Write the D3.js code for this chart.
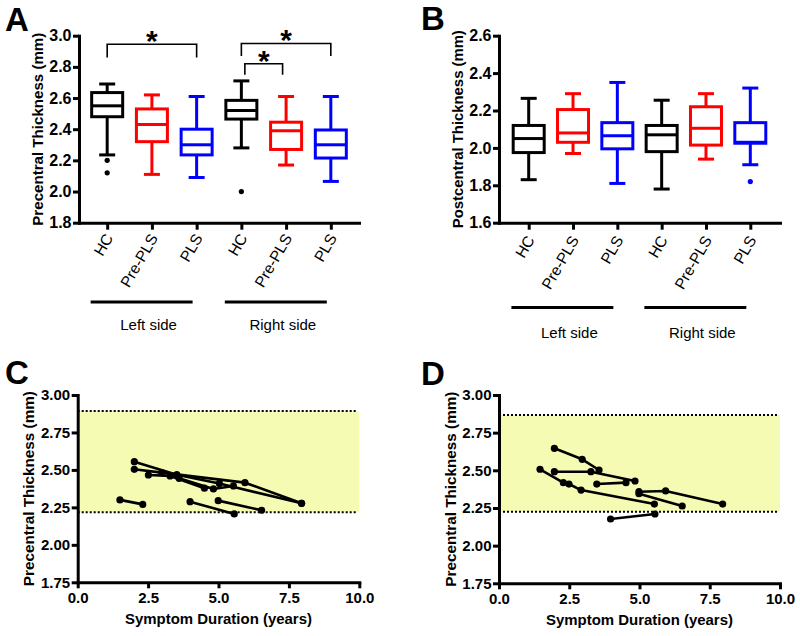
<!DOCTYPE html>
<html><head><meta charset="utf-8">
<script src="https://cdn.jsdelivr.net/npm/d3@7"></script>
<style>
html,body{margin:0;padding:0;background:#fff;}
svg{display:block;font-family:"Liberation Sans",Arial,Helvetica,sans-serif;}
</style></head>
<body>
<script>
// ---------- DATA ----------
const categories = ["HC","Pre-PLS","PLS","HC","Pre-PLS","PLS"];
const catColors = ["#000000","#ff0000","#0000ff","#000000","#ff0000","#0000ff"];
const groups = [{label:"Left side", from:0, to:2}, {label:"Right side", from:3, to:5}];

// Panel A: precentral thickness box plots
const aWhiskerHigh = [2.69, 2.62, 2.61, 2.71, 2.61, 2.61];
const aQ3          = [2.635, 2.53, 2.40, 2.585, 2.445, 2.395];
const aMedian      = [2.55, 2.43, 2.30, 2.52, 2.39, 2.30];
const aQ1          = [2.48, 2.32, 2.235, 2.465, 2.27, 2.215];
const aWhiskerLow  = [2.235, 2.11, 2.09, 2.28, 2.17, 2.065];
const aOutliers    = [[2.20, 2.12], [], [], [2.00], [], []];
const aTicks = [1.8, 2.0, 2.2, 2.4, 2.6, 2.8, 3.0];
// significance brackets (category indices, bracket value, leg end value)
const aSigFrom = [0, 3, 3];
const aSigTo   = [2, 5, 4];
const aSigTop  = [2.945, 2.95, 2.82];
const aSigLeg  = [2.86, 2.87, 2.75];
const aSigLabel = ["*", "*", "*"];

// Panel B: postcentral thickness box plots
const bWhiskerHigh = [2.265, 2.29, 2.35, 2.255, 2.29, 2.32];
const bQ3          = [2.12, 2.205, 2.135, 2.12, 2.22, 2.135];
const bMedian      = [2.05, 2.08, 2.065, 2.07, 2.105, 2.03];
const bQ1          = [1.975, 2.03, 1.995, 1.98, 2.015, 2.025];
const bWhiskerLow  = [1.83, 1.97, 1.81, 1.78, 1.94, 1.91];
const bOutliers    = [[], [], [], [], [], [1.82]];
const bTicks = [1.6, 1.8, 2.0, 2.2, 2.4, 2.6];

// Panel C: longitudinal precentral thickness (left) vs symptom duration
const cSubjects = [
  [[2.01,2.555],[3.52,2.468],[5.03,2.41],[7.95,2.277]],
  [[2.01,2.504],[2.98,2.482],[5.94,2.415],[7.95,2.277]],
  [[2.51,2.466],[3.28,2.46],[4.5,2.378]],
  [[3.6,2.444],[4.82,2.373],[5.53,2.393]],
  [[1.5,2.30],[2.31,2.27]],
  [[3.99,2.288],[5.56,2.206]],
  [[4.99,2.295],[6.53,2.231]]
];
const cBand = [2.217, 2.893];

// Panel D: longitudinal precentral thickness (right) vs symptom duration
const dSubjects = [
  [[1.97,2.646],[2.96,2.573],[3.56,2.502]],
  [[1.97,2.491],[3.27,2.491],[4.84,2.429]],
  [[3.48,2.409],[4.52,2.418]],
  [[1.46,2.507],[2.29,2.418],[2.49,2.409],[2.92,2.369],[5.53,2.276]],
  [[4.98,2.358],[5.93,2.363],[7.96,2.276]],
  [[4.98,2.345],[6.52,2.263]],
  [[3.97,2.177],[5.55,2.21]]
];
const dBand = [2.225, 2.867];
const scatterYTicks = [1.75, 2.00, 2.25, 2.50, 2.75, 3.00];
const scatterXTicks = [0, 2.5, 5, 7.5, 10];

// ---------- DRAW ----------
const svg = d3.select("body").append("svg").attr("width",800).attr("height",636);
const FONT = '"Liberation Sans",Arial,Helvetica,sans-serif';

function styleAxis(g, size){
  g.select(".domain").attr("stroke","#000").attr("stroke-width",3).attr("stroke-linecap","square");
  g.selectAll(".tick line").attr("stroke","#000").attr("stroke-width",3);
  g.selectAll("text").attr("fill","#000").style("font-family",FONT).style("font-size",size+"px").style("font-weight","bold");
}

function panelLetter(t,x,y){
  svg.append("text").attr("x",x).attr("y",y).text(t)
    .style("font-family",FONT).style("font-size","33px").style("font-weight","bold");
}

function boxPanel(o){
  const x = d3.scalePoint().domain(d3.range(categories.length)).range(o.xr).padding(o.pad);
  const y = d3.scaleLinear().domain(o.dom).range(o.yr);
  const u = d3.scaleLinear().domain([0, categories.length-1]).range([x(0), x(categories.length-1)]);

  const gy = svg.append("g").attr("transform",`translate(${o.xr[0]},0)`)
    .call(d3.axisLeft(y).tickValues(o.ticks).tickFormat(d3.format(".1f")).tickSize(6).tickSizeOuter(0).tickPadding(1.5));
  styleAxis(gy,16);
  const gx = svg.append("g").attr("transform",`translate(0,${o.yr[0]})`)
    .call(d3.axisBottom(x).tickSize(7).tickSizeOuter(0).tickFormat(i=>categories[i]));
  styleAxis(gx,15);
  gx.selectAll("text").style("font-weight","normal").style("font-size","15.5px")
    .attr("x",0).attr("y",0).attr("dy",0).attr("text-anchor","end")
    .attr("transform",`translate(6,${o.lblDy}) rotate(-60)`);

  const bw = 31, cw = 16;
  const g = svg.append("g");
  categories.forEach((c,i)=>{
    const cx = x(i), col = catColors[i];
    const s = g.append("g").attr("stroke",col).attr("stroke-width",3).attr("fill","none");
    s.append("line").attr("x1",cx).attr("x2",cx).attr("y1",y(o.hi[i])).attr("y2",y(o.q3[i]));
    s.append("line").attr("x1",cx).attr("x2",cx).attr("y1",y(o.q1[i])).attr("y2",y(o.lo[i]));
    s.append("line").attr("x1",cx-cw/2).attr("x2",cx+cw/2).attr("y1",y(o.hi[i])).attr("y2",y(o.hi[i]));
    s.append("line").attr("x1",cx-cw/2).attr("x2",cx+cw/2).attr("y1",y(o.lo[i])).attr("y2",y(o.lo[i]));
    s.append("rect").attr("x",cx-bw/2).attr("width",bw).attr("y",y(o.q3[i])).attr("height",y(o.q1[i])-y(o.q3[i]));
    s.append("line").attr("x1",cx-bw/2).attr("x2",cx+bw/2).attr("y1",y(o.med[i])).attr("y2",y(o.med[i]));
    o.out[i].forEach(v=>{
      g.append("circle").attr("cx",cx).attr("cy",y(v)).attr("r",2.6).attr("fill",col);
    });
  });

  // group underline + labels
  groups.forEach((gr,k)=>{
    const x1 = u(gr.from - o.grpExt[0]), x2 = u(gr.to + o.grpExt[1]);
    svg.append("line").attr("x1",x1).attr("x2",x2).attr("y1",o.grpLineY).attr("y2",o.grpLineY)
      .attr("stroke","#000").attr("stroke-width",3);
    svg.append("text").attr("x",(x1+x2)/2+7).attr("y",o.grpTextY).attr("text-anchor","middle")
      .text(gr.label).style("font-family",FONT).style("font-size","15px");
  });

  // y title
  svg.append("text").attr("transform",`translate(${o.titleX},${(o.yr[0]+o.yr[1])/2}) rotate(-90)`)
    .attr("text-anchor","middle").text(o.title)
    .attr("textLength",o.titleLen).attr("lengthAdjust","spacingAndGlyphs")
    .style("font-family",FONT).style("font-size","15.5px").style("font-weight","bold");

  // significance
  if(o.sig){
    o.sig.from.forEach((f,k)=>{
      const inset = o.sig.inset[k];
      const x1 = x(f)+inset, x2 = x(o.sig.to[k])-inset;
      const yt = y(o.sig.top[k]), yl = y(o.sig.leg[k]);
      svg.append("path").attr("d",`M${x1},${yl}V${yt}H${x2}V${yl}`)
        .attr("fill","none").attr("stroke","#000").attr("stroke-width",1.6);
      svg.append("text").attr("x",(x1+x2)/2).attr("y",yt+7).attr("text-anchor","middle")
        .text(o.sig.label[k]).style("font-family",FONT).style("font-size","30px").style("font-weight","bold");
    });
  }
}

function scatterPanel(o){
  const x = d3.scaleLinear().domain([0,10]).range(o.xr);
  const y = d3.scaleLinear().domain([1.75,3.0]).range(o.yr);
  // band
  svg.append("rect").attr("x",x(0)).attr("width",x(10)-x(0))
    .attr("y",y(o.band[1])).attr("height",y(o.band[0])-y(o.band[1])).attr("fill","#f6fbb4");
  o.band.forEach(v=>{
    svg.append("line").attr("x1",x(0)).attr("x2",x(10)-2).attr("y1",y(v)).attr("y2",y(v))
      .attr("stroke","#000").attr("stroke-width",2).attr("stroke-dasharray","2,2");
  });
  const gy = svg.append("g").attr("transform",`translate(${o.xr[0]},0)`)
    .call(d3.axisLeft(y).tickValues(scatterYTicks).tickFormat(d3.format(".2f")).tickSize(6).tickSizeOuter(0).tickPadding(1.5));
  styleAxis(gy,15);
  const gx = svg.append("g").attr("transform",`translate(0,${o.yr[0]})`)
    .call(d3.axisBottom(x).tickValues(scatterXTicks).tickFormat(d3.format(".1f")).tickSize(6).tickSizeOuter(0).tickPadding(4));
  styleAxis(gx,15);

  const line = d3.line().x(d=>x(d[0])).y(d=>y(d[1]));
  o.subjects.forEach(s=>{
    svg.append("path").attr("d",line(s)).attr("fill","none").attr("stroke","#000").attr("stroke-width",2.6)
      .attr("stroke-linejoin","round");
  });
  o.subjects.forEach(s=>{
    s.forEach(p=>svg.append("circle").attr("cx",x(p[0])).attr("cy",y(p[1])).attr("r",3.6).attr("fill","#000"));
  });

  svg.append("text").attr("transform",`translate(${o.titleX},${(o.yr[0]+o.yr[1])/2}) rotate(-90)`)
    .attr("text-anchor","middle").text("Precentral Thickness (mm)")
    .attr("textLength",195).attr("lengthAdjust","spacingAndGlyphs")
    .style("font-family",FONT).style("font-size","15.5px").style("font-weight","bold");
  svg.append("text").attr("x",(o.xr[0]+o.xr[1])/2).attr("y",o.xTitleY).attr("text-anchor","middle")
    .text("Symptom Duration (years)")
    .attr("textLength",187).attr("lengthAdjust","spacingAndGlyphs")
    .style("font-family",FONT).style("font-size","15.5px").style("font-weight","bold");
}

boxPanel({xr:[79,359], pad:0.63, yr:[222.7,35.7], dom:[1.8,3.0], ticks:aTicks,
  hi:aWhiskerHigh, q3:aQ3, med:aMedian, q1:aQ1, lo:aWhiskerLow, out:aOutliers,
  lblDy:15, grpExt:[0.37,-0.09], grpLineY:302, grpTextY:330, titleX:43, titleLen:193,
  title:"Precentral Thickness (mm)",
  sig:{from:aSigFrom, to:aSigTo, top:aSigTop, leg:aSigLeg, label:aSigLabel, inset:[0,0,3.5]}});
boxPanel({xr:[499,780], pad:0.67, yr:[222.7,35.7], dom:[1.6,2.6], ticks:bTicks,
  hi:bWhiskerHigh, q3:bQ3, med:bMedian, q1:bQ1, lo:bWhiskerLow, out:bOutliers,
  lblDy:17, grpExt:[0.39,-0.09], grpLineY:307.5, grpTextY:338, titleX:463, titleLen:198,
  title:"Postcentral Thickness (mm)"});

scatterPanel({xr:[77.7,359.3], yr:[582.3,395], band:cBand, subjects:cSubjects, titleX:34, xTitleY:624});
scatterPanel({xr:[499,780], yr:[583.3,395], band:dBand, subjects:dSubjects, titleX:456, xTitleY:625});

panelLetter("A",5,31);
panelLetter("B",421,30);
panelLetter("C",5,384);
panelLetter("D",421,385);
</script>
</body></html>
